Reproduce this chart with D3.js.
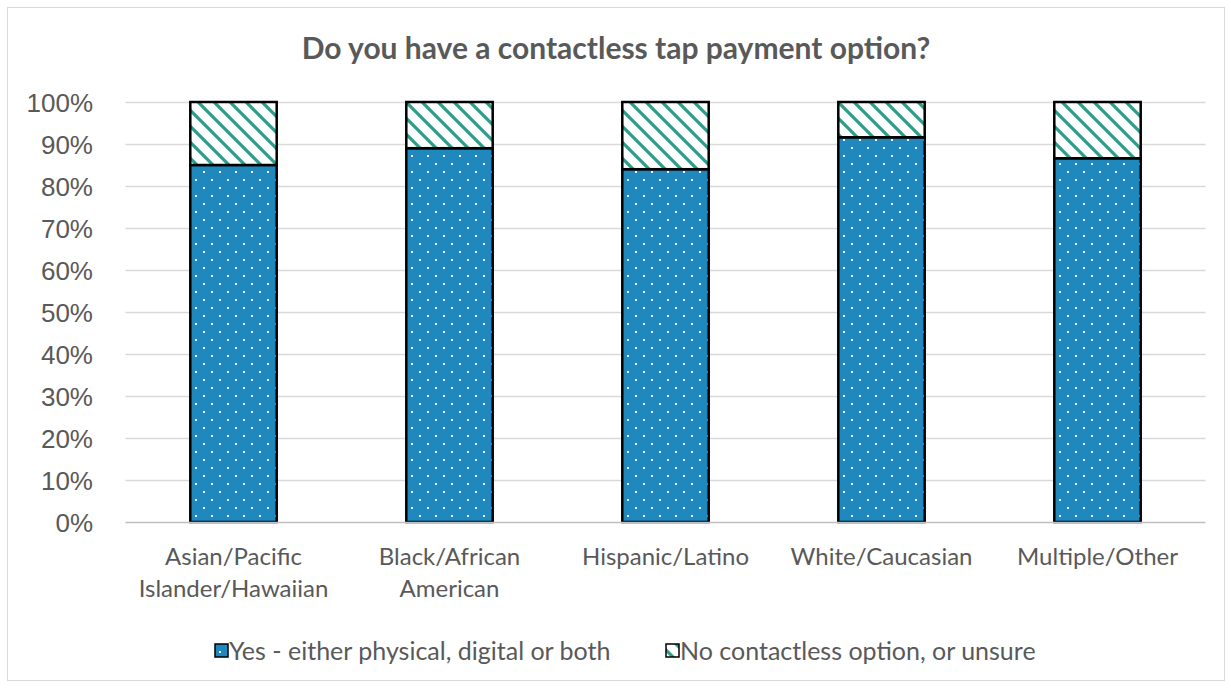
<!DOCTYPE html>
<html>
<head>
<meta charset="utf-8">
<script src="https://cdn.jsdelivr.net/npm/d3@7"></script>
<style>
  html, body { margin: 0; padding: 0; background: #fff; }
  svg { display: block; font-family: Lato, "Open Sans", sans-serif; }
</style>
</head>
<body>
<svg id="chart" width="1231" height="688"></svg>
<script>
// Survey: share of respondents reporting a contactless tap payment option
const categories = [
  ["Asian/Pacific", "Islander/Hawaiian"],
  ["Black/African", "American"],
  ["Hispanic/Latino"],
  ["White/Caucasian"],
  ["Multiple/Other"]
];
const categoryKeys = ["Asian/Pacific Islander/Hawaiian", "Black/African American", "Hispanic/Latino", "White/Caucasian", "Multiple/Other"];
const yesValues = [0.85, 0.89, 0.84, 0.916, 0.866];
const noValues = yesValues.map(v => 1 - v);
const seriesNames = ["Yes - either physical, digital or both", "No contactless option, or unsure"];
const tickValues = [0, 0.1, 0.2, 0.3, 0.4, 0.5, 0.6, 0.7, 0.8, 0.9, 1.0];
const title = "Do you have a contactless tap payment option?";

const svg = d3.select("#chart");
const W = 1231, H = 688;
const margin = { left: 125.5, right: 25.5, top: 102, bottom: 166 };
const textColor = "#595959";

// Chart frame
svg.append("rect")
  .attr("x", 7.5).attr("y", 7.5).attr("width", 1217).attr("height", 673)
  .attr("fill", "#fff").attr("stroke", "#d9d9d9").attr("stroke-width", 1);

// Fill patterns
const defs = svg.append("defs");
const dots = defs.append("pattern")
  .attr("id", "dots").attr("patternUnits", "userSpaceOnUse")
  .attr("width", 16).attr("height", 16);
dots.append("rect").attr("width", 16).attr("height", 16).attr("fill", "#1f88bf");
[[0, 0], [8, 8]].forEach(([dx, dy]) => {
  dots.append("rect").attr("x", dx + 3).attr("y", dy + 3).attr("width", 2).attr("height", 2).attr("fill", "#fff");
});

const hatch = defs.append("pattern")
  .attr("id", "hatch").attr("patternUnits", "userSpaceOnUse")
  .attr("width", 16).attr("height", 16);
hatch.append("rect").attr("width", 16).attr("height", 16).attr("fill", "#fff");
hatch.append("path")
  .attr("d", "M-4,12 L4,20 M-4,-4 L20,20 M12,-4 L20,4")
  .attr("stroke", "#2e9e89").attr("stroke-width", 3.2);

const x = d3.scaleBand()
  .domain(categoryKeys)
  .range([margin.left, W - margin.right])
  .paddingInner(0.6).paddingOuter(0.3);
const y = d3.scaleLinear().domain([0, 1]).range([H - margin.bottom, margin.top]);

// Gridlines
svg.append("g")
  .selectAll("line")
  .data(tickValues.filter(t => t > 0))
  .join("line")
  .attr("x1", margin.left).attr("x2", W - margin.right)
  .attr("y1", d => Math.round(y(d)) + 0.5).attr("y2", d => Math.round(y(d)) + 0.5)
  .attr("stroke", "#d9d9d9").attr("stroke-width", 1.5);

// Y axis labels
const yAxis = d3.axisLeft(y).tickValues(tickValues).tickFormat(d3.format(".0%")).tickSize(0).tickPadding(0);
const gy = svg.append("g").attr("transform", `translate(${93},0)`).call(yAxis);
gy.select(".domain").remove();
gy.selectAll("text").attr("fill", textColor).attr("font-size", 26).attr("dy", "0.36em");

// Stacked bars
const stackData = categoryKeys.map((k, i) => ({ key: k, yes: yesValues[i], no: noValues[i] }));
const stacked = d3.stack().keys(["yes", "no"])(stackData);
const fills = ["url(#dots)", "url(#hatch)"];
stacked.forEach((layer, li) => {
  svg.append("g")
    .selectAll("rect")
    .data(layer)
    .join("rect")
    .attr("x", d => x(d.data.key))
    .attr("y", d => y(d[1]))
    .attr("width", x.bandwidth())
    .attr("height", d => y(d[0]) - y(d[1]))
    .attr("fill", fills[li])
    .attr("stroke", "#000")
    .attr("stroke-width", 2.5);
});

// Baseline
svg.append("line")
  .attr("x1", margin.left).attr("x2", W - margin.right)
  .attr("y1", y(0) + 0.5).attr("y2", y(0) + 0.5)
  .attr("stroke", "#bfbfbf").attr("stroke-width", 1.5);

// Category labels
const gx = svg.append("g");
categoryKeys.forEach((k, i) => {
  const cx = x(k) + x.bandwidth() / 2;
  const t = gx.append("text")
    .attr("x", cx)
    .attr("y", 565)
    .attr("text-anchor", "middle")
    .attr("fill", textColor)
    .attr("font-size", 24);
  categories[i].forEach((line, j) => {
    t.append("tspan").attr("x", cx).attr("dy", j === 0 ? 0 : 32).text(line);
  });
});

// Title
svg.append("text")
  .attr("x", 616).attr("y", 59)
  .attr("text-anchor", "middle")
  .attr("fill", textColor)
  .attr("font-size", 30).attr("font-weight", "bold")
  .text(title);

// Legend
const legendItems = [
  { name: seriesNames[0], fill: "url(#dots)", x: 215 },
  { name: seriesNames[1], fill: "url(#hatch)", x: 666 }
];
const lg = svg.append("g");
legendItems.forEach(it => {
  lg.append("rect")
    .attr("x", it.x).attr("y", 644).attr("width", 13).attr("height", 13)
    .attr("fill", it.fill).attr("stroke", "#000").attr("stroke-width", 1.5);
  lg.append("text")
    .attr("x", it.x + 14).attr("y", 651).attr("dy", "0.36em")
    .attr("fill", textColor).attr("font-size", 25)
    .text(it.name);
});
</script>
</body>
</html>
